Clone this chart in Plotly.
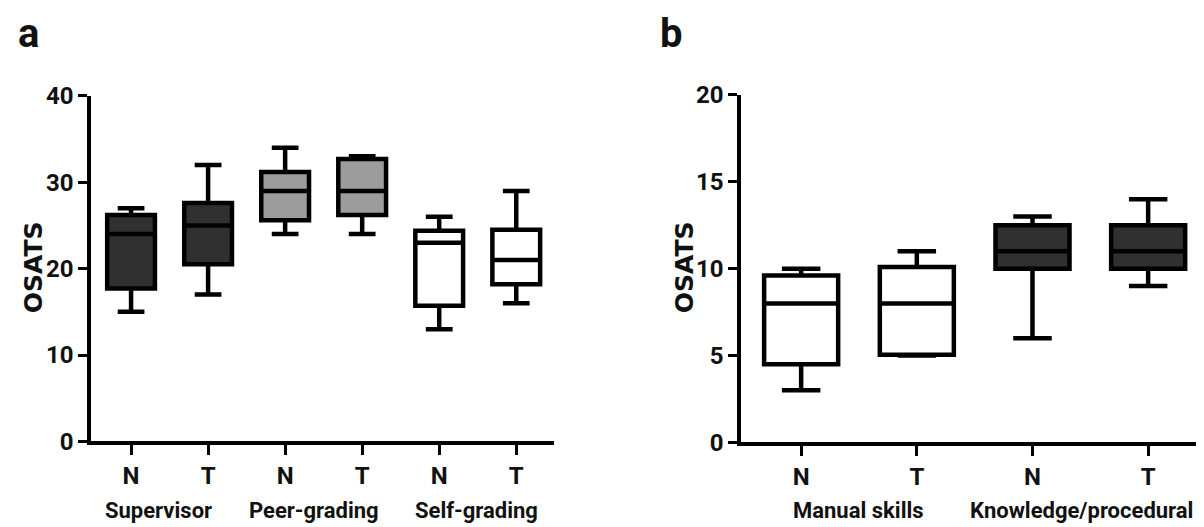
import plotly.graph_objects as go

# ---- Panel a data ----
a_ticks = ["N", "T", "N", "T", "N", "T"]
a_groups = ["Supervisor", "Peer-grading", "Self-grading"]
a_min = [15, 17, 24, 24, 13, 16]
a_q1 = [17.7, 20.5, 25.6, 26.2, 15.7, 18.2]
a_med = [24, 25, 29, 29, 23, 21]
a_q3 = [26.2, 27.6, 31.2, 32.7, 24.4, 24.5]
a_max = [27, 32, 34, 33, 26, 29]

# ---- Panel b data ----
b_ticks = ["N", "T", "N", "T"]
b_groups = ["Manual skills", "Knowledge/procedural"]
b_min = [3, 5, 6, 9]
b_q1 = [4.5, 5.05, 10, 10]
b_med = [8, 8, 11, 11]
b_q3 = [9.6, 10.1, 12.5, 12.5]
b_max = [10, 11, 13, 14]

DARK = "#303030"
GREY = "#9c9c9c"
WHITE = "#ffffff"
a_fill = [DARK, DARK, GREY, GREY, WHITE, WHITE]
b_fill = [WHITE, WHITE, DARK, DARK]

FONT = "Roboto, Liberation Sans, sans-serif"
TXT = "#111111"

fig = go.Figure()

for i in range(len(a_ticks)):
    fig.add_trace(go.Box(
        x=[i], q1=[a_q1[i]], median=[a_med[i]], q3=[a_q3[i]],
        lowerfence=[a_min[i]], upperfence=[a_max[i]],
        width=0.62, whiskerwidth=0.56,
        fillcolor=a_fill[i], line=dict(color="black", width=4.5),
        xaxis="x", yaxis="y", showlegend=False, hoverinfo="skip",
    ))

for i in range(len(b_ticks)):
    fig.add_trace(go.Box(
        x=[i], q1=[b_q1[i]], median=[b_med[i]], q3=[b_q3[i]],
        lowerfence=[b_min[i]], upperfence=[b_max[i]],
        width=0.64, whiskerwidth=0.52,
        fillcolor=b_fill[i], line=dict(color="black", width=4.5),
        xaxis="x2", yaxis="y2", showlegend=False, hoverinfo="skip",
    ))

W, H = 1204, 527

def px_x(p):
    return p / W

def px_y(p):
    return 1 - p / H

axis_common = dict(
    showline=True, linecolor="black", linewidth=3.5,
    ticks="outside", tickwidth=3, tickcolor="black",
    showgrid=False, zeroline=False,
    tickfont=dict(family=FONT, size=24, color=TXT, weight="bold"),
)

fig.update_layout(
    width=W, height=H,
    margin=dict(l=0, r=0, t=0, b=0),
    paper_bgcolor="white", plot_bgcolor="white",
    xaxis=dict(domain=[px_x(83), px_x(546)], range=[-0.52, 5.49],
               tickvals=list(range(len(a_ticks))), ticktext=a_ticks,
               ticklen=10, anchor="y", **axis_common),
    yaxis=dict(domain=[px_y(443), px_y(78)], range=[0, 40],
               tickvals=[0, 10, 20, 30, 40], ticklen=9, anchor="x",
               **axis_common),
    xaxis2=dict(domain=[px_x(733), px_x(1198)], range=[-0.52, 3.5],
                tickvals=list(range(len(b_ticks))), ticktext=b_ticks,
                ticklen=10, anchor="y2", **axis_common),
    yaxis2=dict(domain=[px_y(444), px_y(77)], range=[0, 20],
                tickvals=[0, 5, 10, 15, 20], ticklen=9, anchor="x2",
                **axis_common),
)

annots = []
GROUP_FONT = dict(family=FONT, size=22, color=TXT, weight="bold")
a_group_x = [0.35, 2.37, 4.48]
for gx, g in zip(a_group_x, a_groups):
    annots.append(dict(x=gx, y=px_y(516), xref="x", yref="paper", text=g,
                       showarrow=False, yanchor="middle", font=GROUP_FONT))
b_group_x = [0.5, 2.42]
for gx, g in zip(b_group_x, b_groups):
    annots.append(dict(x=gx, y=px_y(516), xref="x2", yref="paper", text=g,
                       showarrow=False, yanchor="middle", font=GROUP_FONT))
# y titles
for xp in [25, 676]:
    annots.append(dict(x=px_x(xp), y=px_y(259), xref="paper", yref="paper",
                       text="<b>OSATS</b>", textangle=-90, showarrow=False,
                       xanchor="center", yanchor="middle",
                       font=dict(family="DejaVu Sans", size=25, color=TXT)))
# panel letters
annots.append(dict(x=px_x(20), y=px_y(12), xref="paper", yref="paper",
                   text="<b>a</b>", showarrow=False, xanchor="center", yanchor="middle",
                   font=dict(family=FONT, size=40, color=TXT)))
annots.append(dict(x=px_x(663), y=px_y(12), xref="paper", yref="paper",
                   text="<b>b</b>", showarrow=False, xanchor="center", yanchor="middle",
                   font=dict(family=FONT, size=40, color=TXT)))
fig.update_layout(annotations=annots)

fig.write_html("out.html")
